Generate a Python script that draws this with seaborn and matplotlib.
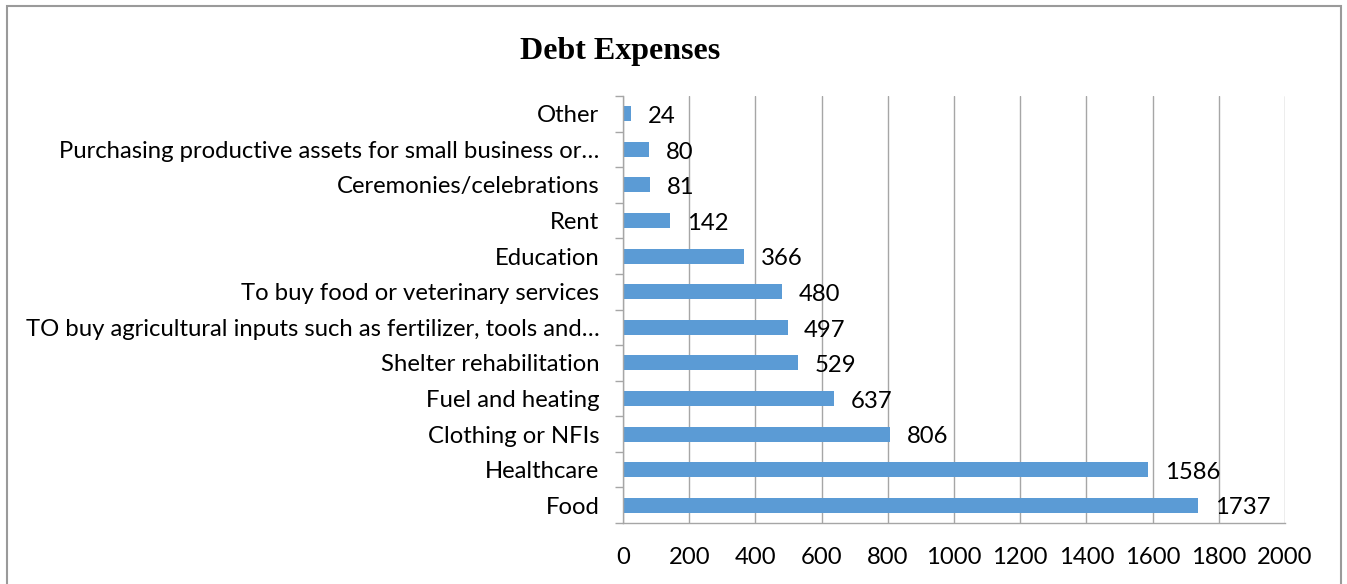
import matplotlib
matplotlib.use("Agg")
import matplotlib.pyplot as plt
from matplotlib.patches import Rectangle
from matplotlib.ticker import FixedLocator
import seaborn as sns
import pandas as pd

categories = [
    "Other",
    "Purchasing productive assets for small business or…",
    "Ceremonies/celebrations",
    "Rent",
    "Education",
    "To buy food or veterinary services",
    "TO buy agricultural inputs such as fertilizer, tools and…",
    "Shelter rehabilitation",
    "Fuel and heating",
    "Clothing or NFIs",
    "Healthcare",
    "Food",
]
values = [24, 80, 81, 142, 366, 480, 497, 529, 637, 806, 1586, 1737]
x_ticks = [0, 200, 400, 600, 800, 1000, 1200, 1400, 1600, 1800, 2000]

df = pd.DataFrame({"category": categories, "value": values})

sns.set_theme(style="white")
plt.rcParams["font.family"] = ["Lato", "DejaVu Sans"]

bar_color = "#5B9BD5"
grid_color = "#A6A6A6"
label_size = 17.2

fig = plt.figure(figsize=(13.47, 5.84), dpi=100)
ax = fig.add_axes([623 / 1347, 1 - 523 / 584, (1285 - 623) / 1347, (523 - 96) / 584])

sns.barplot(data=df, x="value", y="category", order=categories, orient="h",
            color=bar_color, saturation=1, width=0.42, linewidth=0, ax=ax)

ax.set_xlim(0, 2000)
ax.set_ylim(len(categories) - 0.5, -0.5)
ax.set_xticks(x_ticks)
ax.set_xticklabels([str(t) for t in x_ticks])
ax.set_xlabel("")
ax.set_ylabel("")

# vertical gridlines
ax.xaxis.grid(True, color=grid_color, linewidth=1)
ax.yaxis.grid(False)
ax.set_axisbelow(True)

for side in ["top", "right"]:
    ax.spines[side].set_visible(False)
for side in ["left", "bottom"]:
    ax.spines[side].set_color(grid_color)
    ax.spines[side].set_linewidth(1)

# tick marks: x below the axis, y at category boundaries
ax.tick_params(axis="x", which="major", direction="out", length=6, width=1,
               color=grid_color, pad=11, labelsize=label_size, labelcolor="black")
ax.tick_params(axis="y", which="major", length=0, pad=17, labelsize=label_size,
               labelcolor="black")
ax.yaxis.set_minor_locator(FixedLocator([i - 0.5 for i in range(len(categories) + 1)]))
ax.tick_params(axis="y", which="minor", direction="out", length=6, width=1,
               color=grid_color, left=True)

# value labels to the right of each bar
for i, v in enumerate(values):
    ax.annotate(str(v), xy=(v, i), xytext=(12, -2), textcoords="offset points",
                ha="left", va="center", fontsize=label_size, color="black")

fig.text(620 / 1347, 1 - 52 / 584, "Debt Expenses", ha="center", va="center",
         fontsize=23, fontweight="bold", color="black",
         family=["Liberation Serif", "DejaVu Serif"])

# chart frame
fig.patches.append(Rectangle((7 / 1347, -0.05), (1341 - 7) / 1347, 1.05 - 6 / 584,
                             transform=fig.transFigure, fill=False,
                             edgecolor="#9A9A9A", linewidth=1.5, clip_on=False))

fig.savefig("out.png", dpi=100, facecolor="white")
